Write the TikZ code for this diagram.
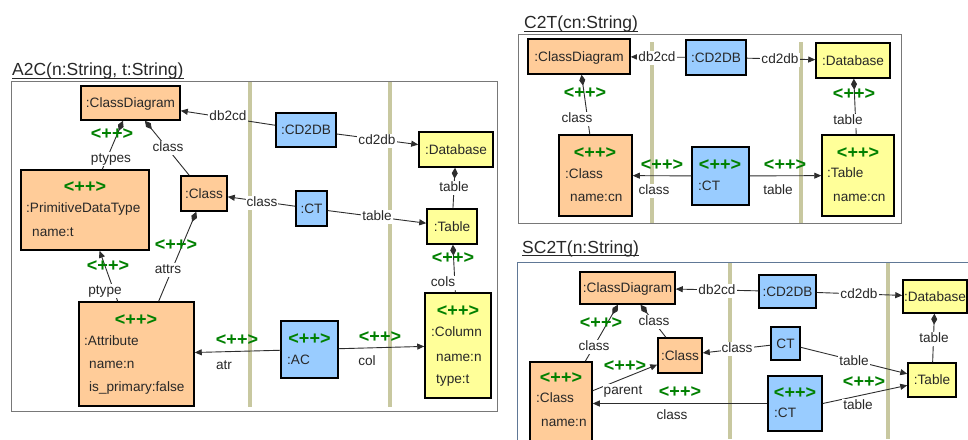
\documentclass[tikz,border=0pt]{standalone}
\usepackage{fontspec}
\setmainfont{Liberation Sans}
\usetikzlibrary{arrows.meta,calc}

\definecolor{objorange}{RGB}{255,204,153}
\definecolor{objblue}{RGB}{153,204,255}
\definecolor{objyellow}{RGB}{255,255,153}
\definecolor{plusgreen}{RGB}{0,128,0}
\definecolor{lanebar}{RGB}{200,200,160}
\definecolor{framegray}{RGB}{120,120,120}
\definecolor{frameblue}{RGB}{96,120,150}
\definecolor{inktext}{RGB}{40,40,40}
\definecolor{inkline}{RGB}{45,45,45}

\tikzset{
  objbox/.style n args={4}{draw=black, line width=1.5pt, inner sep=0pt,
    minimum width={#3-#1}, minimum height={#4-#2},
    at={({(#1+#3)/2},{(#2+#4)/2})}},
  txt/.style={font=\fontsize{13.6}{16}\selectfont, text=inktext, inner sep=0pt,
    text height=9.5pt, text depth=0pt},
  lefttxt/.style={txt, anchor=west},
  newmark/.style={font=\fontsize{18}{20}\selectfont\bfseries, text=plusgreen,
    inner sep=0pt, text height=12.5pt, text depth=0pt},
  role/.style={font=\fontsize{13.6}{16}\selectfont, text=inktext, fill=white,
    inner sep=1pt, text height=9.5pt, text depth=3pt},
  link/.style={draw=inkline, line width=0.9pt, -{Triangle[length=7pt,width=6pt]}},
  comp/.style={draw=inkline, line width=0.9pt, {Diamond[length=11pt,width=6pt]}-},
  title/.style={font=\fontsize{17.5}{20}\selectfont, text=inktext, anchor=base west, inner sep=0pt},
  uline/.style={draw=inktext, line width=1pt},
}

\begin{document}
\begin{tikzpicture}[x=1pt, y=-1pt]
\fill[white] (0,0) rectangle (968,439);
\useasboundingbox (0,0) rectangle (968,439);

% ---------------- frames and swim-lane bars ----------------
\draw[framegray, line width=0.9pt] (11,81) rectangle (497,411);
\draw[framegray, line width=0.9pt] (518,34) rectangle (901,223);
\draw[frameblue, line width=0.9pt] (517,262) rectangle (985,455);

\fill[lanebar] (247.75,82) rectangle (252.25,407);
\fill[lanebar] (387.75,82) rectangle (392.25,407);
\fill[lanebar] (649.75,42) rectangle (654.25,223);
\fill[lanebar] (798.75,42) rectangle (803.25,223);
\fill[lanebar] (727.75,263) rectangle (732.25,439);
\fill[lanebar] (885.75,263) rectangle (890.25,439);

% ---------------- titles ----------------
\node[title] (a-title) at (12,75.5) {A2C(n:String, t:String)};
\node[title] (c-title) at (524,28.5) {C2T(cn:String)};
\node[title] (s-title) at (522,253) {SC2T(n:String)};
\draw[uline] ($(a-title.base west)+(0,2.5)$) -- ($(a-title.base east)+(0,2.5)$);
\draw[uline] ($(c-title.base west)+(0,2.5)$) -- ($(c-title.base east)+(0,2.5)$);
\draw[uline] ($(s-title.base west)+(0,2.5)$) -- ($(s-title.base east)+(0,2.5)$);

% ---------------- A2C objects ----------------
\node[objbox={81}{86}{180}{120}, fill=objorange, txt] (a-cd) {:ClassDiagram};
\node[objbox={21}{170}{149}{250}, fill=objorange] (a-pdt) {};
\node[objbox={181}{176}{227}{211}, fill=objorange, txt] (a-cls) {:Class};
\node[objbox={276}{113}{336}{147}, fill=objblue, txt] (a-cd2db) {:CD2DB};
\node[objbox={419}{132}{493}{167}, fill=objyellow, txt] (a-db) {:Database};
\node[objbox={296}{191}{327}{226}, fill=objblue, txt] (a-ct) {:CT};
\node[objbox={427}{209}{477}{244}, fill=objyellow, txt] (a-tab) {:Table};
\node[objbox={79}{302}{194}{406}, fill=objorange] (a-attr) {};
\node[objbox={281}{321}{338}{378}, fill=objblue] (a-ac) {};
\node[objbox={425}{293}{491}{398}, fill=objyellow] (a-col) {};

\node[newmark] (a-pdt-m) at (85,186) {<++>};
\node[lefttxt] (a-pdt-1) at (26,208) {:PrimitiveDataType};
\node[lefttxt] (a-pdt-2) at (32,232) {name:t};
\node[newmark] (a-attr-m) at (136,319) {<++>};
\node[lefttxt] (a-attr-1) at (84,341) {:Attribute};
\node[lefttxt] (a-attr-2) at (89,364) {name:n};
\node[lefttxt] (a-attr-3) at (89,387) {is\_primary:false};
\node[newmark] (a-ac-m) at (309.5,338) {<++>};
\node[lefttxt] (a-ac-1) at (287,360) {:AC};
\node[newmark] (a-col-m) at (458,310) {<++>};
\node[lefttxt] (a-col-1) at (431,332) {:Column};
\node[lefttxt] (a-col-2) at (436,357) {name:n};
\node[lefttxt] (a-col-3) at (436,379) {type:t};

% ---------------- C2T objects ----------------
\node[objbox={528}{39}{630}{74}, fill=objorange, txt] (c-cd) {:ClassDiagram};
\node[objbox={686}{40}{746}{75}, fill=objblue, txt] (c-cd2db) {:CD2DB};
\node[objbox={816}{43}{890}{78}, fill=objyellow, txt] (c-db) {:Database};
\node[objbox={559}{135}{632}{216}, fill=objorange] (c-cls) {};
\node[objbox={692}{147}{749}{205}, fill=objblue] (c-ct) {};
\node[objbox={822}{135}{894}{216}, fill=objyellow] (c-tab) {};

\node[newmark] (c-cls-m) at (595,152) {<++>};
\node[lefttxt] (c-cls-1) at (565,174) {:Class};
\node[lefttxt] (c-cls-2) at (570,197) {name:cn};
\node[newmark] (c-ct-m) at (720,164) {<++>};
\node[lefttxt] (c-ct-1) at (698,186) {:CT};
\node[newmark] (c-tab-m) at (858,152) {<++>};
\node[lefttxt] (c-tab-1) at (827,173) {:Table};
\node[lefttxt] (c-tab-2) at (833,197) {name:cn};

% ---------------- SC2T objects ----------------
\node[objbox={580}{272}{675}{304}, fill=objorange, txt] (s-cd) {:ClassDiagram};
\node[objbox={759}{275}{816}{308}, fill=objblue, txt] (s-cd2db) {:CD2DB};
\node[objbox={903}{280}{967}{313}, fill=objyellow, txt] (s-db) {:Database};
\node[objbox={658}{338}{702}{373}, fill=objorange, txt] (s-cls) {:Class};
\node[objbox={530}{362}{592}{445}, fill=objorange] (s-ncls) {};
\node[objbox={771}{327}{800}{360}, fill=objblue, txt] (s-ct) {CT};
\node[objbox={768}{376}{822}{431}, fill=objblue] (s-nct) {};
\node[objbox={908}{363}{956}{397}, fill=objyellow, txt] (s-tab) {:Table};

\node[newmark] (s-ncls-m) at (561,377) {<++>};
\node[lefttxt] (s-ncls-1) at (536,398) {:Class};
\node[lefttxt] (s-ncls-2) at (541,422) {name:n};
\node[newmark] (s-nct-m) at (795,392) {<++>};
\node[lefttxt] (s-nct-1) at (774,413) {:CT};

% ---------------- A2C links ----------------
\draw[link] (a-cd2db) -- (a-cd);
\draw[link] (a-cd2db) -- (a-db);
\draw[link] (a-ct) -- (a-cls);
\draw[link] (a-ct) -- (a-tab);
\draw[comp] (a-db) -- (a-tab);
\draw[comp] (a-tab) -- (a-col);
\draw[comp] (a-cd) -- (a-cls);
\draw[comp] (a-cd) -- (a-pdt);
\draw[comp] (a-cls) -- (a-attr);
\draw[link] (a-attr) -- (a-pdt);
\draw[link] (a-ac) -- (a-attr);
\draw[link] (a-ac) -- (a-col);

\node[role] (a-l1) at (228,117) {db2cd};
\node[role] (a-l2) at (377,141) {cd2db};
\node[role] (a-l3) at (262,203) {class};
\node[role] (a-l4) at (377,217) {table};
\node[role] (a-l5) at (454,188) {table};
\node[newmark] (a-m1) at (453,257) {<++>};
\node[role] (a-l6) at (443,283) {cols};
\node[role] (a-l7) at (168,148) {class};
\node[newmark] (a-m2) at (112,133) {<++>};
\node[role] (a-l8) at (111,159) {ptypes};
\node[newmark] (a-m3) at (176,244) {<++>};
\node[role] (a-l9) at (168,270) {attrs};
\node[newmark] (a-m4) at (108,265) {<++>};
\node[role] (a-l10) at (105,291) {ptype};
\node[newmark] (a-m5) at (237,339) {<++>};
\node[role] (a-l11) at (224,366) {atr};
\node[newmark] (a-m6) at (380,336) {<++>};
\node[role] (a-l12) at (367,362) {col};

% ---------------- C2T links ----------------
\draw[link] (c-cd2db) -- (c-cd);
\draw[link] (c-cd2db) -- (c-db);
\draw[comp] (c-cd) -- (c-cls);
\draw[comp] (c-db) -- (c-tab);
\draw[link] (c-ct) -- (c-cls);
\draw[link] (c-ct) -- (c-tab);

\node[role] (c-l1) at (657,58) {db2cd};
\node[role] (c-l2) at (780,60) {cd2db};
\node[newmark] (c-m1) at (585,92) {<++>};
\node[role] (c-l3) at (577,119) {class};
\node[newmark] (c-m2) at (854,93) {<++>};
\node[role] (c-l4) at (848,121) {table};
\node[newmark] (c-m3) at (662,164) {<++>};
\node[role] (c-l5) at (654,191) {class};
\node[newmark] (c-m4) at (785,164) {<++>};
\node[role] (c-l6) at (778,191) {table};

% ---------------- SC2T links ----------------
\draw[link] (s-cd2db) -- (s-cd);
\draw[link] (s-cd2db) -- (s-db);
\draw[comp] (s-db) -- (s-tab);
\draw[comp] (s-cd) -- (s-cls);
\draw[comp] (s-cd) -- (s-ncls);
\draw[link] (s-ct) -- (s-cls);
\draw[link] (s-ct) -- (s-tab);
\draw[link] (s-nct.east) -- (s-tab);
\draw[link] (s-nct) -- (s-ncls);
\draw[link] (s-ncls) -- (s-cls);

\node[role] (s-l1) at (717,291) {db2cd};
\node[role] (s-l2) at (859,295) {cd2db};
\node[role] (s-l3) at (934,339) {table};
\node[role] (s-l4) at (654,322) {class};
\node[newmark] (s-m1) at (601,322) {<++>};
\node[role] (s-l5) at (594,347) {class};
\node[role] (s-l6) at (737,349) {class};
\node[role] (s-l7) at (854,362) {table};
\node[newmark] (s-m2) at (864,381) {<++>};
\node[role] (s-l8) at (858,406) {table};
\node[newmark] (s-m3) at (680,391) {<++>};
\node[role] (s-l9) at (672,416) {class};
\node[newmark] (s-m4) at (625,365) {<++>};
\node[role] (s-l10) at (623,391) {parent};
\end{tikzpicture}
\end{document}
